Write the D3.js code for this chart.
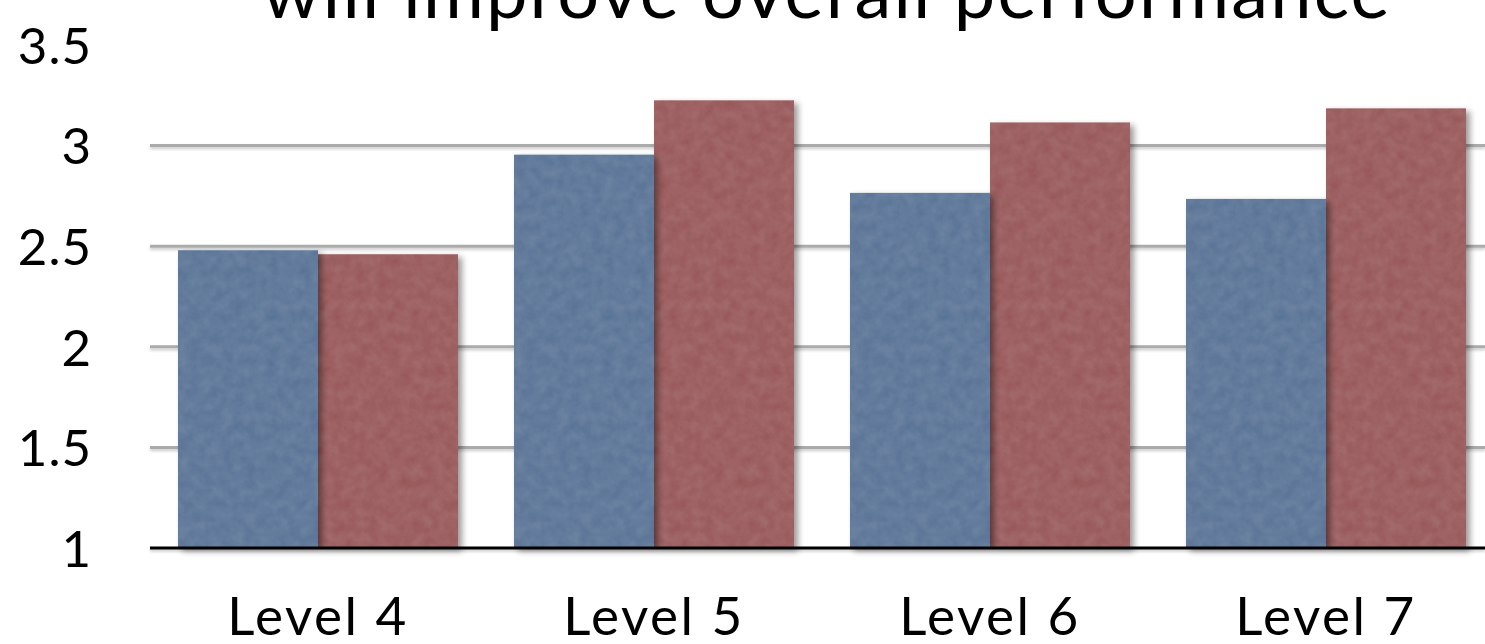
<!DOCTYPE html>
<html>
<head>
<meta charset="utf-8">
<script src="https://cdn.jsdelivr.net/npm/d3@7"></script>
<style>
  html, body { margin: 0; padding: 0; background: #fff; }
  svg { display: block; }
  text { font-family: "Lato", "Open Sans", sans-serif; fill: #000; }
</style>
</head>
<body>
<svg id="chart" width="1485" height="644"></svg>
<script>
// Mean ratings per level
const categories = ["Level 4", "Level 5", "Level 6", "Level 7"];
const seriesNames = ["Before", "After"];
const seriesA = [2.48, 2.955, 2.765, 2.735];
const seriesB = [2.46, 3.225, 3.115, 3.185];
const yTicks = [1, 1.5, 2, 2.5, 3, 3.5];
const gridValues = [1.5, 2, 2.5, 3];
const titleText = "will improve overall performance";

const colors = { Before: "#59769a", After: "#9b5659" };

const W = 1485, H = 644;
const plotLeft = 150, plotRight = 1494;

const svg = d3.select("#chart");

// Filters: soft drop shadow plus a subtle grain texture on the bars
const defs = svg.append("defs");
const fx = defs.append("filter").attr("id", "barFx")
  .attr("x", "-10%").attr("y", "-10%").attr("width", "125%").attr("height", "125%");
fx.append("feGaussianBlur").attr("in", "SourceAlpha").attr("stdDeviation", 3).attr("result", "b");
fx.append("feOffset").attr("in", "b").attr("dx", 4).attr("dy", 3).attr("result", "bo");
fx.append("feComponentTransfer").attr("in", "bo").attr("result", "shadow")
  .append("feFuncA").attr("type", "linear").attr("slope", 0.4);
fx.append("feTurbulence").attr("type", "fractalNoise").attr("baseFrequency", 0.09)
  .attr("numOctaves", 3).attr("seed", 5).attr("result", "noise");
fx.append("feColorMatrix").attr("in", "noise").attr("type", "matrix")
  .attr("values", "1 0 0 0 0  1 0 0 0 0  1 0 0 0 0  0 0 0 0 0.07").attr("result", "grain");
fx.append("feComposite").attr("in", "grain").attr("in2", "SourceGraphic")
  .attr("operator", "in").attr("result", "grainClip");
const fm = fx.append("feMerge");
fm.append("feMergeNode").attr("in", "shadow");
fm.append("feMergeNode").attr("in", "SourceGraphic");
fm.append("feMergeNode").attr("in", "grainClip");

// Line shadow uses user-space region so zero-height lines still render
const lineFx = defs.append("filter").attr("id", "lineFx")
  .attr("filterUnits", "userSpaceOnUse")
  .attr("x", 0).attr("y", 0).attr("width", W).attr("height", H);
lineFx.append("feDropShadow").attr("dx", 0).attr("dy", 2).attr("stdDeviation", 1.5)
  .attr("flood-color", "#000").attr("flood-opacity", 0.22);

// Scales
const y = d3.scaleLinear().domain([1, 3.5]).range([548, 45]);
const x0 = d3.scaleBand().domain(categories).range([plotLeft, plotRight])
  .paddingInner(1 / 6).paddingOuter(1 / 12);
const x1 = d3.scaleBand().domain(seriesNames).range([0, x0.bandwidth()]);

// Title
svg.append("text")
  .attr("x", 827).attr("y", 18)
  .attr("text-anchor", "middle")
  .style("font-size", "74px")
  .style("letter-spacing", "2.2px")
  .text(titleText);

// Gridlines
svg.append("g").selectAll("line")
  .data(gridValues).join("line")
  .attr("x1", plotLeft).attr("x2", W)
  .attr("y1", d => y(d)).attr("y2", d => y(d))
  .attr("stroke", "#ababab").attr("stroke-width", 3)
  .attr("filter", "url(#lineFx)");

// Y axis labels
const yAxis = d3.axisLeft(y).tickValues(yTicks).tickSize(0).tickPadding(0)
  .tickFormat(d3.format("~g"));
const gy = svg.append("g").attr("transform", "translate(92,0)").call(yAxis);
gy.select(".domain").remove();
gy.selectAll("text")
  .style("font-size", "51px")
  .style("font-family", "Lato, 'Open Sans', sans-serif")
  .style("letter-spacing", "1px")
  .attr("fill", "#000")
  .attr("dy", "0.36em");

// Bars: second series drawn first so the first bar's shadow falls across its neighbour
const rows = categories.map((c, i) => ({ cat: c, Before: seriesA[i], After: seriesB[i] }));
const groups = svg.append("g").selectAll("g")
  .data(rows).join("g")
  .attr("transform", d => `translate(${x0(d.cat)},0)`);
groups.selectAll("rect")
  .data(d => seriesNames.slice().reverse().map(k => ({ key: k, value: d[k] })))
  .join("rect")
  .attr("x", d => x1(d.key))
  .attr("width", x1.bandwidth())
  .attr("y", d => y(d.value))
  .attr("height", d => y(1) - y(d.value))
  .attr("fill", d => colors[d.key])
  .attr("filter", "url(#barFx)");

// Baseline
svg.append("line")
  .attr("x1", plotLeft).attr("x2", W)
  .attr("y1", y(1)).attr("y2", y(1))
  .attr("stroke", "#000").attr("stroke-width", 3)
  .attr("filter", "url(#lineFx)");

// X axis labels
const xAxis = d3.axisBottom(x0).tickSize(0).tickPadding(0);
const gx = svg.append("g").attr("transform", "translate(0,635)").call(xAxis);
gx.select(".domain").remove();
gx.selectAll("text")
  .style("font-size", "53px")
  .style("font-family", "Lato, 'Open Sans', sans-serif")
  .style("letter-spacing", "2.5px")
  .attr("fill", "#000")
  .attr("dy", 0);
</script>
</body>
</html>
